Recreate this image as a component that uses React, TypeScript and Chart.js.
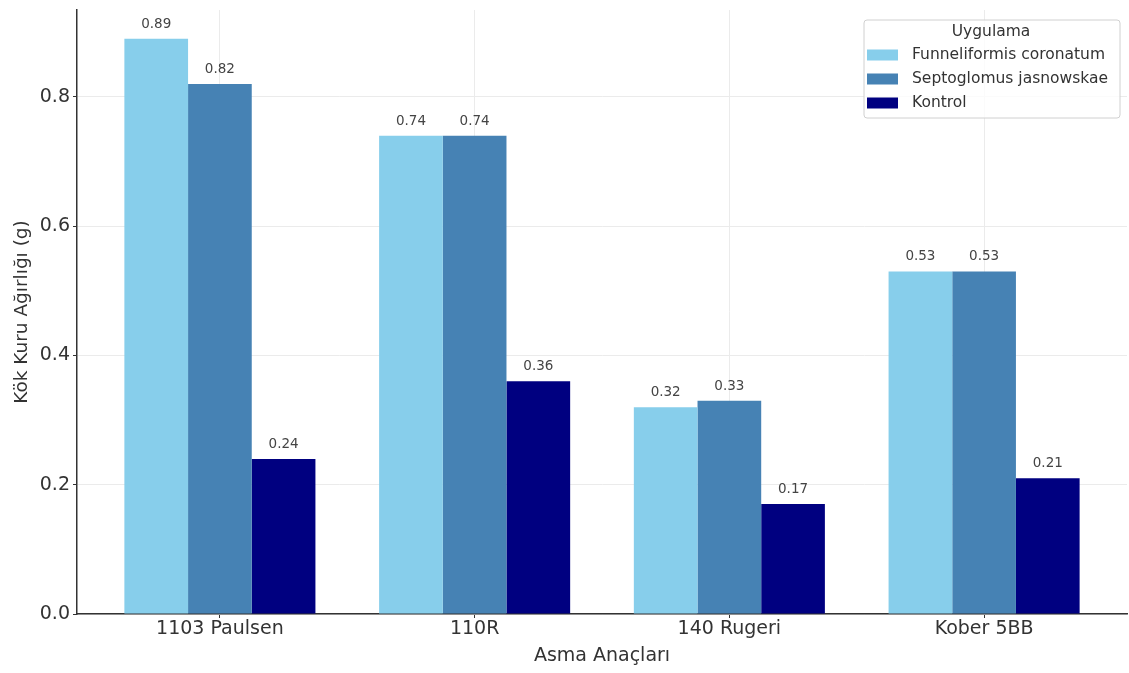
import React, { useEffect, useRef } from "react";
import { Chart, registerables } from "chart.js";

Chart.register(...registerables);

const categories = ["1103 Paulsen", "110R", "140 Rugeri", "Kober 5BB"];
const seriesNames = ["Funneliformis coronatum", "Septoglomus jasnowskae", "Kontrol"];
const funneliformis = [0.89, 0.74, 0.32, 0.53];
const septoglomus = [0.82, 0.74, 0.33, 0.53];
const kontrol = [0.24, 0.36, 0.17, 0.21];
const seriesColors = ["#87CEEB", "#4682B4", "#000080"];
const yTicks = [0, 0.2, 0.4, 0.6, 0.8];
const legendTitle = "Uygulama";
const xTitle = "Asma Anaçları";
const yTitle = "Kök Kuru Ağırlığı (g)";

const FONT = "'DejaVu Sans', sans-serif";

const valueLabels = {
  id: "valueLabels",
  afterDatasetsDraw(chart: any) {
    const ctx = chart.ctx;
    ctx.save();
    ctx.font = `13.5px ${FONT}`;
    ctx.fillStyle = "#444";
    ctx.textAlign = "center";
    ctx.textBaseline = "alphabetic";
    chart.data.datasets.forEach((ds: any, di: number) => {
      const meta = chart.getDatasetMeta(di);
      meta.data.forEach((el: any, i: number) => {
        const v = ds.data[i].y;
        ctx.fillText(v.toFixed(2), el.x, el.y - 11);
      });
    });
    ctx.restore();
  },
};

const boxLegend = {
  id: "boxLegend",
  afterDraw(chart: any) {
    const ctx = chart.ctx;
    const left = 864;
    const top = 20;
    const w = 256;
    const h = 98;
    ctx.save();
    ctx.globalAlpha = 0.8;
    ctx.fillStyle = "#ffffff";
    ctx.beginPath();
    ctx.roundRect(left, top, w, h, 3);
    ctx.fill();
    ctx.globalAlpha = 1;
    ctx.strokeStyle = "#d0d0d0";
    ctx.lineWidth = 1;
    ctx.stroke();
    ctx.font = `15.5px ${FONT}`;
    ctx.fillStyle = "#333";
    ctx.textAlign = "center";
    ctx.textBaseline = "middle";
    ctx.fillText(legendTitle, 991, top + 12);
    ctx.textAlign = "left";
    chart.data.datasets.forEach((ds: any, i: number) => {
      const cy = 55 + i * 24;
      ctx.fillStyle = ds.backgroundColor;
      ctx.fillRect(867, cy - 5.5, 31, 11);
      ctx.fillStyle = "#333";
      ctx.fillText(ds.label, 912, cy);
    });
    ctx.restore();
  },
};

export default function App() {
  const ref = useRef<HTMLCanvasElement>(null);
  useEffect(() => {
    if (!ref.current) return;
    Chart.defaults.font.family = FONT;
    const seriesData = [funneliformis, septoglomus, kontrol];
    const chart = new Chart(ref.current, {
      type: "bar",
      data: {
        datasets: seriesData.map((vals, si) => ({
          label: seriesNames[si],
          data: vals.map((v, i) => ({ x: i, y: v })),
          backgroundColor: seriesColors[si],
          borderWidth: 0,
          categoryPercentage: 0.75,
          barPercentage: 1.0,
        })),
      },
      options: {
        responsive: false,
        animation: false,
        layout: { padding: { top: 10, right: 2, left: 0, bottom: 0 } },
        plugins: {
          legend: { display: false },
          tooltip: { enabled: false },
        },
        scales: {
          x: {
            type: "linear",
            min: -0.561,
            max: 3.561,
            offset: false,
            afterBuildTicks: (scale: any) => {
              scale.ticks = categories.map((_, i) => ({ value: i }));
            },
            afterFit: (scale: any) => {
              scale.height = 59;
              scale.paddingLeft = 0;
              scale.paddingRight = 0;
            },
            ticks: {
              font: { size: 19 },
              color: "#333",
              padding: 0,
              autoSkip: false,
              maxRotation: 0,
              callback: (v: any) => categories[Math.round(v)] ?? "",
            },
            grid: {
              offset: false,
              color: "#ebebeb",
              lineWidth: 1,
              drawTicks: true,
              tickLength: 4,
              tickColor: "#333",
            },
            border: { color: "#333", width: 1.5 },
            title: {
              display: true,
              text: xTitle,
              font: { size: 19 },
              color: "#333",
              padding: { top: 0, bottom: 6 },
              align: "center",
            },
          },
          y: {
            min: 0,
            max: 0.9345,
            afterBuildTicks: (scale: any) => {
              scale.ticks = yTicks.map((v) => ({ value: v }));
            },
            afterFit: (scale: any) => {
              scale.width = 77;
              scale.paddingTop = 0;
              scale.paddingBottom = 0;
            },
            ticks: {
              font: { size: 19 },
              color: "#333",
              padding: 3,
              callback: (v: any) => Number(v).toFixed(1),
            },
            grid: {
              color: "#ebebeb",
              lineWidth: 1,
              drawTicks: true,
              tickLength: 4,
              tickColor: "#333",
            },
            border: { color: "#333", width: 1.5 },
            title: {
              display: true,
              text: yTitle,
              font: { size: 18.5 },
              color: "#333",
              padding: { top: 11, bottom: 0 },
            },
          },
        },
      },
      plugins: [valueLabels, boxLegend],
    } as any);
    return () => chart.destroy();
  }, []);
  return (
    <div style={{ position: "absolute", left: 0, top: 0, width: 1129, height: 673, background: "#fff" }}>
      <canvas ref={ref} width={1129} height={673} style={{ display: "block" }} />
    </div>
  );
}
